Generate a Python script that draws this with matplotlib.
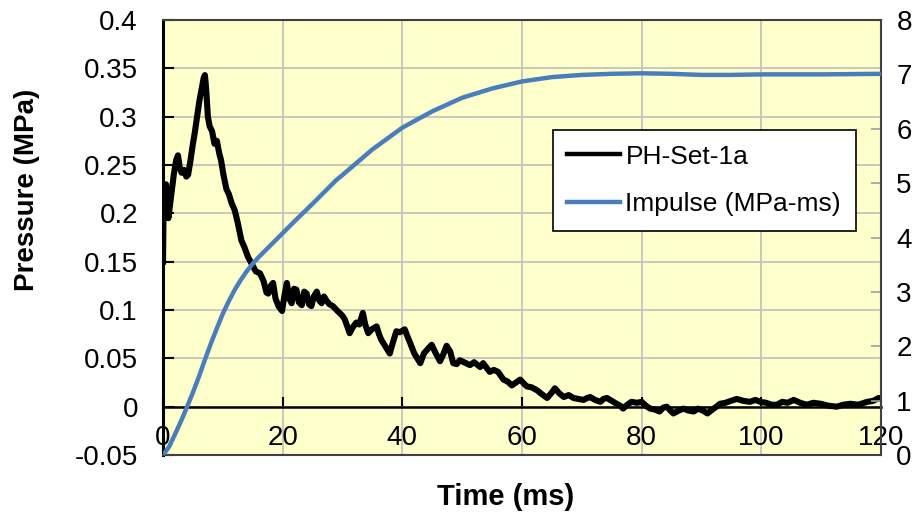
import matplotlib
matplotlib.use('Agg')
import matplotlib.pyplot as plt

plt.rcParams['font.family'] = ['Liberation Sans', 'DejaVu Sans']

# pressure trace PH-Set-1a
time_ms = [0.0, 0.1, 0.2, 0.35, 0.5, 0.7, 0.9, 1.1, 1.4, 1.8, 2.2, 2.5, 2.8, 3.1, 3.5,
           3.9, 4.2, 4.6, 5.0, 5.3, 5.7, 6.1, 6.5, 6.8, 7.0, 7.2, 7.5, 7.8, 8.2, 8.6,
           9.0, 9.4, 9.7, 10.1, 10.6, 11.0, 11.5, 12.0, 12.5, 13.1, 13.6, 14.2, 14.8, 15.5, 16.2,
           16.8, 17.3, 17.6, 18.0, 18.4, 18.8, 19.3, 19.9, 20.3, 20.7, 21.1, 21.5, 21.9, 22.3, 22.7,
           23.2, 23.6, 24.0, 24.4, 24.8, 25.2, 25.7, 26.1, 26.5, 26.9, 27.3, 27.8, 28.4, 29.0, 29.5,
           30.0, 30.4, 30.8, 31.2, 31.7, 32.3, 32.8, 33.4, 33.8, 34.3, 34.9, 35.7, 36.1, 36.5, 37.2,
           37.9, 38.4, 39.0, 39.6, 40.4, 40.9, 41.3, 42.0, 42.5, 43.0, 43.6, 44.3, 44.9, 45.6, 46.3,
           46.9, 47.4, 48.0, 48.5, 49.1, 49.6, 50.3, 51.3, 52.0, 53.0, 53.5, 54.1, 54.6, 55.3, 56.0,
           56.9, 57.6, 58.3, 59.0, 59.7, 60.3, 60.8, 61.6, 62.5, 63.3, 64.2, 64.9, 65.5, 66.2, 67.0,
           67.8, 68.6, 69.4, 70.3, 70.9, 71.4, 72.2, 73.1, 73.6, 74.2, 75.0, 75.8, 76.4, 76.9, 77.6,
           78.3, 79.2, 80.0, 80.7, 81.4, 82.2, 83.0, 83.6, 84.2, 84.8, 85.3, 86.2, 87.0, 87.8, 88.7,
           89.4, 90.2, 91.0, 91.8, 92.5, 93.1, 94.0, 94.9, 95.9, 97.0, 98.1, 99.0, 99.8, 100.8, 101.7,
           102.6, 103.5, 104.4, 105.4, 106.5, 107.6, 108.7, 109.9, 111.2, 112.6, 113.7, 114.9, 116.2, 117.7, 118.7,
           119.6, 120.0]
pressure = [0.15, 0.21, 0.225, 0.22, 0.23, 0.205, 0.195, 0.205, 0.22, 0.24, 0.255, 0.26, 0.248, 0.242, 0.245,
            0.238, 0.24, 0.255, 0.272, 0.283, 0.30, 0.317, 0.33, 0.34, 0.343, 0.33, 0.30, 0.29, 0.285, 0.272,
            0.275, 0.262, 0.255, 0.24, 0.225, 0.22, 0.21, 0.203, 0.19, 0.172, 0.165, 0.155, 0.148, 0.14, 0.138,
            0.13, 0.118, 0.117, 0.125, 0.128, 0.112, 0.104, 0.099, 0.115, 0.128, 0.112, 0.107, 0.122, 0.121, 0.108,
            0.105, 0.119, 0.117, 0.106, 0.104, 0.114, 0.119, 0.11, 0.107, 0.114, 0.11, 0.106, 0.104, 0.1, 0.097,
            0.094, 0.09, 0.083, 0.076, 0.082, 0.087, 0.085, 0.097, 0.085, 0.076, 0.08, 0.083, 0.075, 0.069, 0.062,
            0.055, 0.066, 0.078, 0.077, 0.08, 0.072, 0.066, 0.055, 0.05, 0.045, 0.055, 0.06, 0.064, 0.055, 0.047,
            0.055, 0.063, 0.057, 0.045, 0.044, 0.048, 0.046, 0.043, 0.046, 0.041, 0.045, 0.04, 0.036, 0.038, 0.036,
            0.028, 0.026, 0.022, 0.025, 0.028, 0.024, 0.021, 0.02, 0.017, 0.013, 0.009, 0.014, 0.019, 0.014, 0.01,
            0.012, 0.009, 0.008, 0.007, 0.009, 0.01, 0.007, 0.005, 0.008, 0.009, 0.006, 0.003, 0.001, -0.002, 0.002,
            0.005, 0.004, 0.005, 0.001, -0.002, -0.003, -0.005, -0.001, 0.0, -0.004, -0.007, -0.004, -0.002, -0.004, -0.005,
            -0.002, -0.004, -0.007, -0.003, 0.0, 0.003, 0.004, 0.006, 0.008, 0.006, 0.005, 0.007, 0.005, 0.004, 0.002,
            0.002, 0.005, 0.004, 0.007, 0.004, 0.002, 0.004, 0.003, 0.001, 0.0, 0.002, 0.003, 0.002, 0.005, 0.006,
            0.009, 0.008]

# impulse (MPa-ms), right axis
imp_t = [0, 1, 2, 3, 4, 5, 6, 7, 8, 9, 10, 11, 12, 13, 14, 15, 16, 18, 20, 22, 25, 29, 30,
         35, 40, 45, 50, 55, 60, 65, 70, 75, 80, 85, 90, 95, 100, 110, 120]
imp_val = [0, 0.15, 0.38, 0.62, 0.88, 1.15, 1.44, 1.75, 2.05, 2.33, 2.6, 2.83, 3.04, 3.22, 3.38, 3.52, 3.64,
           3.86, 4.08, 4.3, 4.62, 5.06, 5.15, 5.62, 6.02, 6.32, 6.57, 6.74, 6.87, 6.95, 6.99, 7.01, 7.02,
           7.01, 6.99, 6.99, 7.0, 7.0, 7.01]

x_ticks = [0, 20, 40, 60, 80, 100, 120]
p_ticks = [-0.05, 0, 0.05, 0.1, 0.15, 0.2, 0.25, 0.3, 0.35, 0.4]
p_labels = ['-0.05', '0', '0.05', '0.1', '0.15', '0.2', '0.25', '0.3', '0.35', '0.4']
i_ticks = [0, 1, 2, 3, 4, 5, 6, 7, 8]

fig = plt.figure(figsize=(9.24, 5.22), dpi=100)
ax = fig.add_axes([163 / 924, 67 / 522, 718 / 924, 435 / 522])
ax.set_facecolor('#ffffcc')

ax.plot(time_ms, pressure, color='black', lw=4.4, label='PH-Set-1a', zorder=3,
        solid_joinstyle='round')
ax.set_xlim(0, 120)
ax.set_ylim(-0.05, 0.4)
ax.set_xticks(x_ticks)
ax.set_yticks(p_ticks)
ax.set_yticklabels(p_labels)
ax.grid(True, color='#c4c4bc', lw=1.3)
ax.set_axisbelow(True)

ax.spines['bottom'].set_position(('data', 0))
ax.spines['bottom'].set_linewidth(1.8)
ax.spines['left'].set_linewidth(2.2)
ax.spines['top'].set_visible(False)
ax.spines['right'].set_visible(False)
ax.tick_params(axis='x', direction='in', length=7, width=1.5, labelsize=20, pad=13)
ax.tick_params(axis='y', direction='in', length=8, width=1.5, labelsize=20, pad=18)

ax2 = ax.twinx()
ax2.plot(imp_t, imp_val, color='#4a7ebb', lw=3.2, label='Impulse (MPa-ms)', zorder=4)
ax2.set_ylim(0, 8)
ax2.set_yticks(i_ticks)
ax2.tick_params(axis='y', direction='in', length=7, width=1.2, color='#a0a0a0', labelsize=20, pad=11)
ax2.spines['left'].set_visible(False)
for s in ['top', 'bottom', 'right']:
    ax2.spines[s].set_color('#404040')
    ax2.spines[s].set_linewidth(1.5)

h1, l1 = ax.get_legend_handles_labels()
h2, l2 = ax2.get_legend_handles_labels()
leg = ax2.legend(h1 + h2, l1 + l2, loc='upper left', bbox_to_anchor=(0.543, 0.747),
                 borderaxespad=0, fontsize=19, fancybox=False, framealpha=1,
                 edgecolor='black', handlelength=2.0, handletextpad=0.2,
                 labelspacing=0.9, borderpad=0.55)
leg.get_frame().set_linewidth(1.2)
leg.get_lines()[0].set_linewidth(3.2)

fig.text(506 / 924, 1 - 497 / 522, 'Time (ms)', ha='center', va='center',
         fontsize=21, fontweight='bold')
fig.text(27 / 924, 1 - 190 / 522, 'Pressure (MPa)', ha='center', va='center',
         rotation=90, fontsize=20, fontweight='bold')

plt.savefig('out.png', dpi=100)
